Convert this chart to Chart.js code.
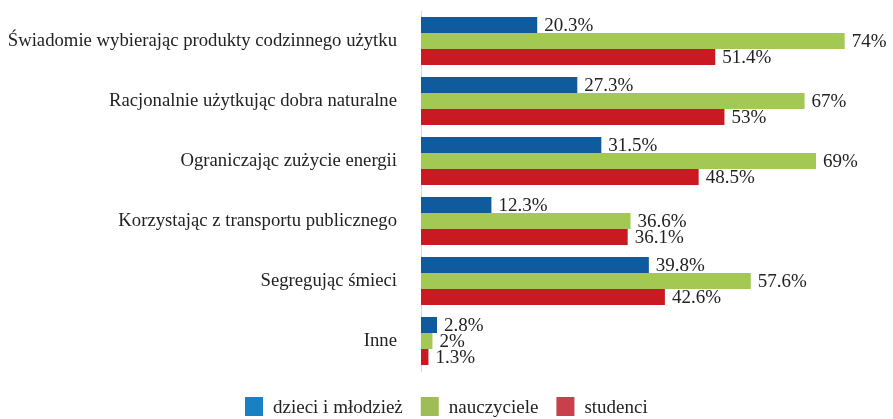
<!DOCTYPE html>
<html>
<head>
<meta charset="utf-8">
<script src="https://cdn.jsdelivr.net/npm/chart.js@4/dist/chart.umd.min.js"></script>
<style>
  html, body { margin: 0; padding: 0; background: #fff; }
  #wrap { width: 893px; height: 419px; }
</style>
</head>
<body>
<div id="wrap"><canvas id="barChart" width="893" height="419"></canvas></div>
<script>
const categories = [
    "Świadomie wybierając produkty codzinnego użytku",
    "Racjonalnie użytkując dobra naturalne",
    "Ograniczając zużycie energii",
    "Korzystając z transportu publicznego",
    "Segregując śmieci",
    "Inne"
];
const seriesNames = ["dzieci i młodzież", "nauczyciele", "studenci"];
const dzieci = [20.3, 27.3, 31.5, 12.3, 39.8, 2.8];
const nauczyciele = [74, 67, 69, 36.6, 57.6, 2];
const studenci = [51.4, 53, 48.5, 36.1, 42.6, 1.3];

const barColors = ["#0f5b9d", "#a3c853", "#c81a20"];
const legendColors = ["#1a80c4", "#9fbd57", "#c7404b"];
const serif = "'Liberation Serif', 'Times New Roman', serif";

// draws the value next to the end of every bar
const valueLabels = {
    id: "valueLabels",
    afterDatasetsDraw(chart) {
        const ctx = chart.ctx;
        ctx.save();
        ctx.font = "19px " + serif;
        ctx.fillStyle = "#222";
        ctx.textBaseline = "middle";
        ctx.textAlign = "left";
        chart.data.datasets.forEach((ds, i) => {
            chart.getDatasetMeta(i).data.forEach((bar, j) => {
                ctx.fillText(ds.data[j] + "%", bar.x + 7, bar.y + 1);
            });
        });
        ctx.restore();
    }
};

// legend under the plot, drawn by hand so its position is fixed
const bottomLegend = {
    id: "bottomLegend",
    afterDraw(chart) {
        const ctx = chart.ctx;
        ctx.save();
        ctx.font = "19px " + serif;
        ctx.textBaseline = "middle";
        ctx.textAlign = "left";
        const box = 18, gap = 10, itemGap = 18, cy = 407;
        const widths = seriesNames.map(n => ctx.measureText(n).width);
        let total = widths.reduce((a, w) => a + box + gap + w, 0) + itemGap * (seriesNames.length - 1);
        let x = Math.round(chart.width / 2 - total / 2);
        seriesNames.forEach((name, i) => {
            ctx.fillStyle = legendColors[i];
            ctx.fillRect(x, cy - 10, box, 19);
            ctx.fillStyle = "#222";
            ctx.fillText(name, x + box + gap, cy + 1);
            x += box + gap + widths[i] + itemGap;
        });
        ctx.restore();
    }
};

const ctx = document.getElementById("barChart").getContext("2d");

new Chart(ctx, {
    type: "bar",
    data: {
        labels: categories,
        datasets: [
            { label: seriesNames[0], data: dzieci, backgroundColor: barColors[0] },
            { label: seriesNames[1], data: nauczyciele, backgroundColor: barColors[1] },
            { label: seriesNames[2], data: studenci, backgroundColor: barColors[2] }
        ]
    },
    options: {
        indexAxis: "y",
        responsive: false,
        animation: false,
        layout: { padding: { top: 11, right: 14, left: 0, bottom: 48 } },
        datasets: {
            bar: { categoryPercentage: 0.8, barPercentage: 1.0 }
        },
        scales: {
            x: {
                min: 0,
                max: 80,
                display: false
            },
            y: {
                grid: { display: false },
                border: { display: true, color: "#d9d9d9", width: 1 },
                ticks: {
                    color: "#222",
                    padding: 16,
                    font: { family: serif, size: 18.7 }
                },
                afterFit(scale) {
                    scale.width = 421;
                    scale.paddingTop = 0;
                    scale.paddingBottom = 0;
                }
            }
        },
        plugins: {
            tooltip: { enabled: false },
            legend: { display: false }
        }
    },
    plugins: [valueLabels, bottomLegend]
});
</script>
</body>
</html>
